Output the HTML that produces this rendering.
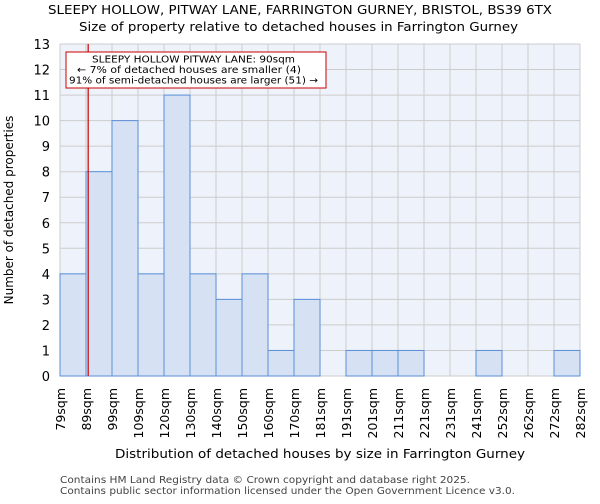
<!DOCTYPE html>
<html><head><meta charset="utf-8"><style>
body{margin:0;background:#fff;font-family:"DejaVu Sans","Liberation Sans",sans-serif;}
</style></head><body>
<svg width="600" height="500" viewBox="0 0 600 500" font-family="DejaVu Sans, Liberation Sans, sans-serif">
<text x="48" y="14" font-size="12" textLength="504" lengthAdjust="spacingAndGlyphs">SLEEPY HOLLOW, PITWAY LANE, FARRINGTON GURNEY, BRISTOL, BS39 6TX</text>
<text x="79" y="31" font-size="12" textLength="439" lengthAdjust="spacingAndGlyphs">Size of property relative to detached houses in Farrington Gurney</text>
<rect x="60" y="44" width="520" height="332" fill="#eef2fa"/>
<g id="grid"></g><g id="bars"></g><g id="axes"></g>
<text x="115" y="458" font-size="12" textLength="410" lengthAdjust="spacingAndGlyphs">Distribution of detached houses by size in Farrington Gurney</text>
<text transform="translate(13,210) rotate(-90)" text-anchor="middle" font-size="12">Number of detached properties</text>
<text x="60" y="483" font-size="10" fill="#444" textLength="410" lengthAdjust="spacingAndGlyphs">Contains HM Land Registry data © Crown copyright and database right 2025.</text>
<text x="60" y="494" font-size="10" fill="#444" textLength="455" lengthAdjust="spacingAndGlyphs">Contains public sector information licensed under the Open Government Licence v3.0.</text>
</svg>
<script>
const categories=["79sqm","89sqm","99sqm","109sqm","120sqm","130sqm","140sqm","150sqm","160sqm","170sqm","181sqm","191sqm","201sqm","211sqm","221sqm","231sqm","241sqm","252sqm","262sqm","272sqm","282sqm"];
const counts=[4,8,10,4,11,4,3,4,1,3,0,1,1,1,0,0,1,0,0,1];
const yTicks=[0,1,2,3,4,5,6,7,8,9,10,11,12,13];
const markerValue=90;
const binStart=79, binStep=10.15;
const NS="http://www.w3.org/2000/svg";
const X0=60,X1=580,Y0=376,Y1=44,YMAX=13;
const bw=(X1-X0)/counts.length;
const xi=i=>X0+i*bw;
const y=v=>Y0-(v/YMAX)*(Y0-Y1);
function mk(t,a,p){const e=document.createElementNS(NS,t);for(const k in a)e.setAttribute(k,a[k]);p.appendChild(e);return e;}
const g=document.getElementById('grid'),b=document.getElementById('bars'),ax=document.getElementById('axes');
yTicks.forEach(v=>{const l=mk('line',{x1:X0,x2:X1,y1:y(v),y2:y(v),stroke:'#cccccc','stroke-width':1},g);


const t=mk('text',{x:X0-10,y:y(v)+5,'text-anchor':'end','font-size':13},ax);t.textContent=v;

});
categories.forEach((c,i)=>{const l=mk('line',{x1:xi(i),x2:xi(i),y1:Y1,y2:Y0,stroke:'#cccccc','stroke-width':1},g);


const t=mk('text',{transform:`translate(${xi(i)+5},${Y0+12}) rotate(-90)`,'text-anchor':'end','font-size':12.5},ax);t.textContent=c;

});
counts.forEach((v,i)=>{if(v<=0)return;const r=mk('rect',{x:xi(i),y:y(v),width:bw,height:Y0-y(v),fill:'#d6e1f3',stroke:'#5a8fd8','stroke-width':1},b);

});
const mx=xi((markerValue-binStart)/binStep);
const ml=mk('line',{x1:mx,x2:mx,y1:Y1,y2:Y0,stroke:'#cc0000','stroke-width':1.2},ax);


const box=mk('rect',{x:66,y:52,width:260,height:36,fill:'#fff',stroke:'#cc0000','stroke-width':1},ax);


const annLines=["SLEEPY HOLLOW PITWAY LANE: 90sqm","← 7% of detached houses are smaller (4)","91% of semi-detached houses are larger (51) →"];
const annX=[92,77,69], annW=[203,224,249];
annLines.forEach((s,k)=>{
const t=mk('text',{x:annX[k],y:62.5+k*10.5,'font-size':10,textLength:annW[k],lengthAdjust:'spacingAndGlyphs'},ax);t.textContent=s;

});
</script>
</body></html>
